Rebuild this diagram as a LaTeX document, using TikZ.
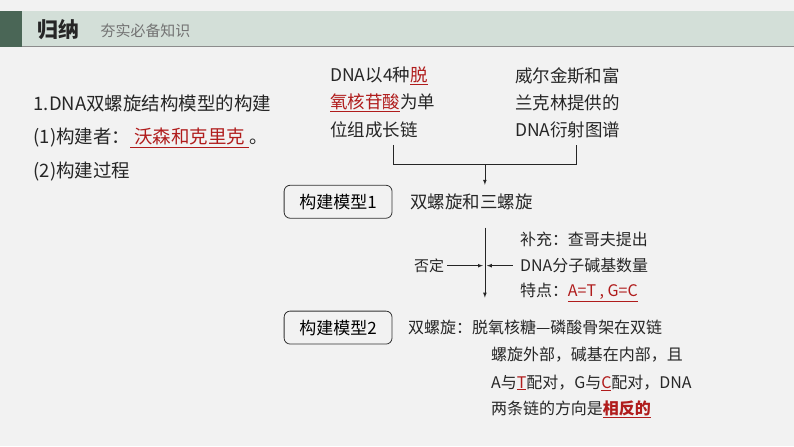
\documentclass[tikz,border=0pt]{standalone}
\usepackage{fontspec}
\setmainfont{Noto Sans CJK SC}
\definecolor{bg}{HTML}{F2F2F2}
\definecolor{band}{HTML}{D3DFD8}
\definecolor{dgreen}{HTML}{4A6656}
\definecolor{rd}{HTML}{B01C1C}
\tikzset{x=1pt,y=-1pt,
 txt/.style={anchor=west,inner sep=0pt,font=\fontsize{16}{16}\selectfont,text=black!85},
 big/.style={font=\fontsize{18.5}{18}\selectfont},
 mid/.style={font=\fontsize{17.5}{18}\selectfont},
 mbox/.style={draw=black!80,rounded corners=6pt,line width=0.8pt,minimum width=108pt,minimum height=33pt,font=\fontsize{17}{17}\selectfont},
 ln/.style={line width=0.7pt,black!85},
 arr/.style={ln,-latex}}
\newcommand{\ru}[1]{\textcolor{rd}{\underline{#1}}}
\begin{document}
\begin{tikzpicture}
\fill[bg] (0,0) rectangle (794,447);
\fill[band] (0,11) rectangle (794,47);
\draw[black!45,line width=1pt] (0,47) -- (794,47);
\fill[dgreen] (0,11) rectangle (22,47);
\node[txt,font=\fontsize{21}{21}\selectfont\bfseries] (t1) at (37,30) {归纳};
\node[txt,font=\fontsize{15}{15}\selectfont,text=black!55] (t2) at (100,31) {夯实必备知识};
\node[txt,big] (a1) at (33,104) {1.DNA双螺旋结构模型的构建};
\node[txt,big] (a2) at (33,138) {(1)构建者：\ru{\ 沃森和克里克\ }。};
\node[txt,big] (a3) at (33,172) {(2)构建过程};
\node[txt,mid] (l1) at (330,76) {DNA以4种\ru{脱}};
\node[txt,mid] (l2) at (330,103) {\ru{氧核苷酸}为单};
\node[txt,mid] (l3) at (330,130) {位组成长链};
\node[txt,mid] (r1) at (515,76) {威尔金斯和富};
\node[txt,mid] (r2) at (515,103) {兰克林提供的};
\node[txt,mid] (r3) at (515,130) {DNA衍射图谱};
\coordinate (bl) at (393,145); \coordinate (br) at (577,145);
\coordinate (bm) at (485,165);
\draw[ln] (bl) -- (393,165) -- (577,165) -- (br);
\node[mbox] (m1) at (338,202) {构建模型1};
\draw[arr] (bm) -- (485,185);
\node[txt,mid] (d1) at (410,202) {双螺旋和三螺旋};
\coordinate (vt) at (485,228); \coordinate (vb) at (485,298);
\draw[arr] (vt) -- (vb);
\node[txt,font=\fontsize{15}{15}\selectfont] (f) at (414,266) {否定};
\draw[arr] (f.east) ++(3,0) -- (483,266);
\draw[arr] (513,266) -- (487,266);
\node[txt] (s1) at (520,240) {补充：查哥夫提出};
\node[txt] (s2) at (520,266) {DNA分子碱基数量};
\node[txt] (s3) at (520,293) {特点：\ru{A=T , G=C}};
\node[mbox] (m2) at (338,328) {构建模型2};
\node[txt] (e1) at (408,328) {双螺旋：脱氧核糖—磷酸骨架在双链};
\node[txt] (e2) at (491,355) {螺旋外部，碱基在内部，且};
\node[txt] (e3) at (491,383) {A与\ru{T}配对，G与\ru{C}配对，DNA};
\node[txt] (e4) at (491,410) {两条链的方向是\ru{\bfseries 相反的}};
\end{tikzpicture}
\end{document}
